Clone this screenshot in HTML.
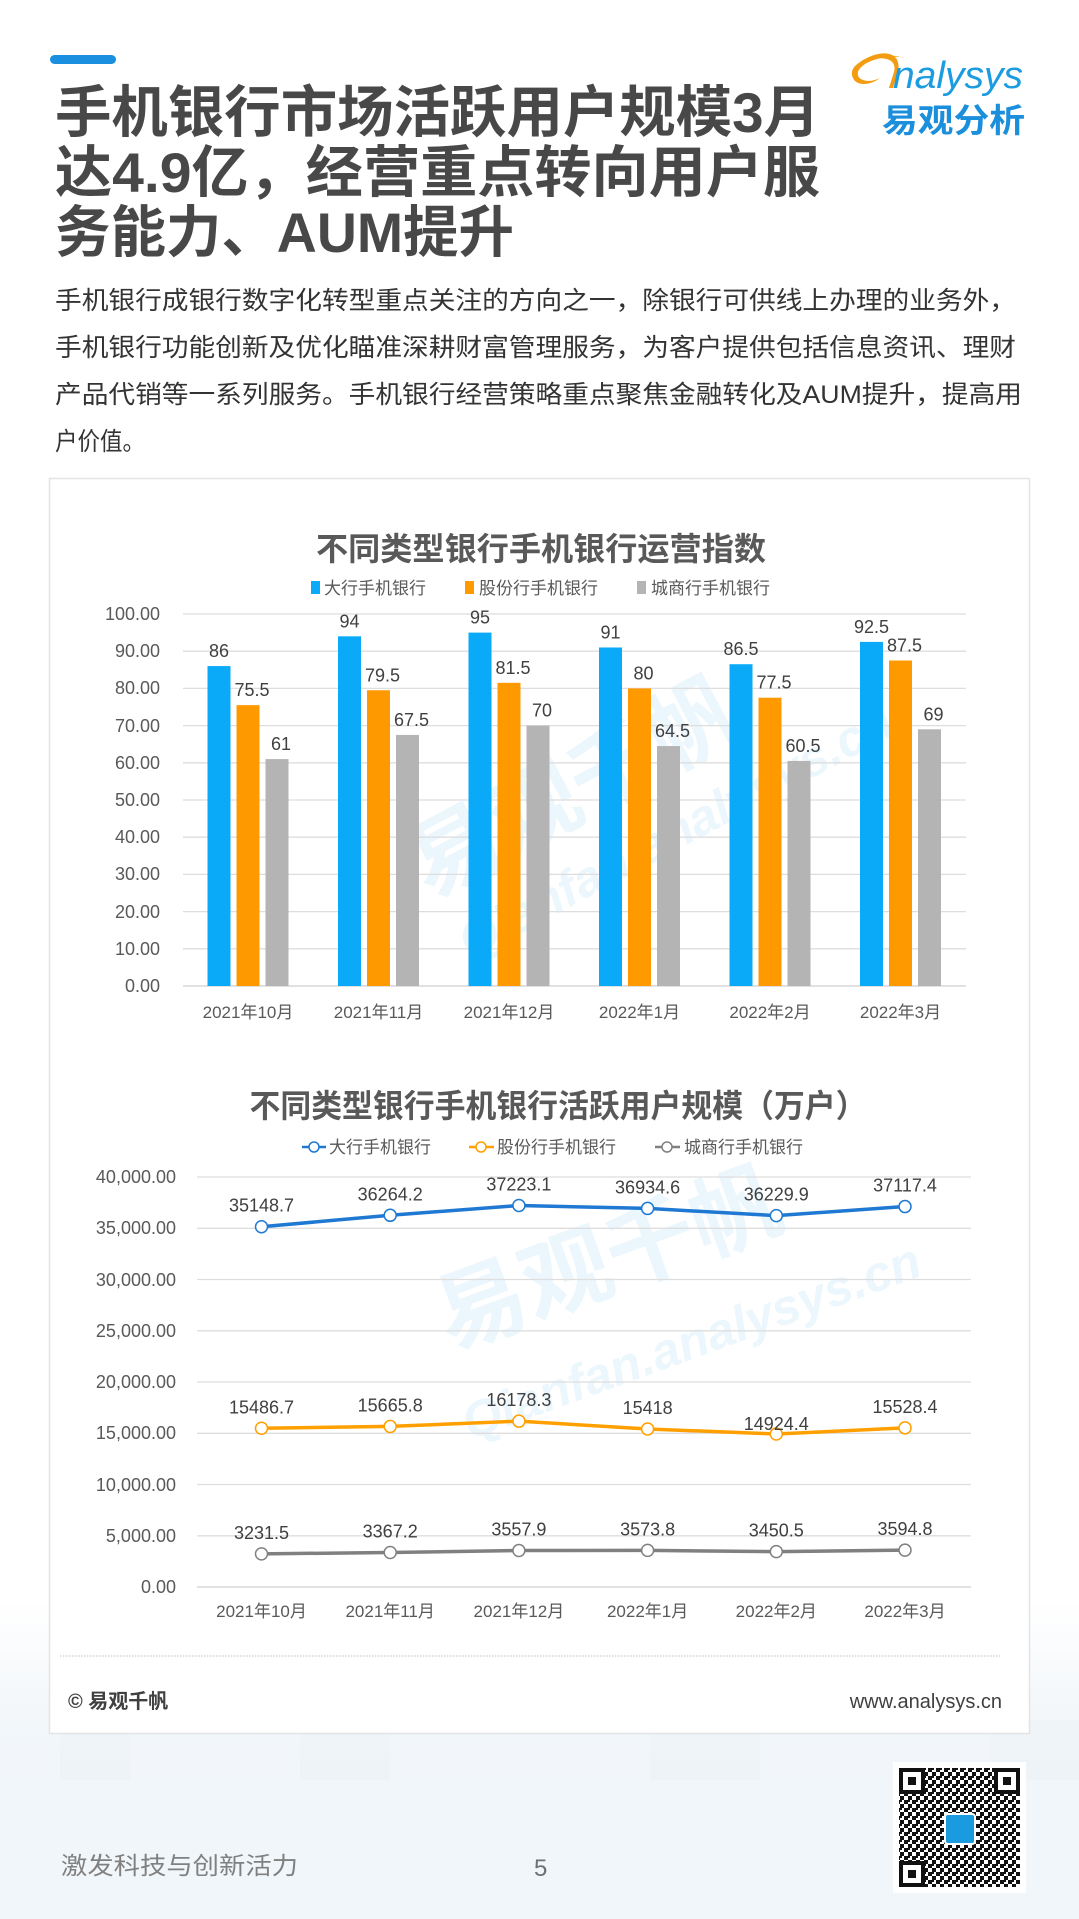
<!DOCTYPE html>
<html><head><meta charset="utf-8"><style>
html,body{margin:0;padding:0;background:#fff;}
svg{display:block;font-family:"Liberation Sans","Noto Sans CJK SC",sans-serif;}
</style></head><body>
<svg width="1079" height="1919" viewBox="0 0 1079 1919" xmlns="http://www.w3.org/2000/svg">
<defs>
<linearGradient id="bg" x1="0" y1="0" x2="0" y2="1">
<stop offset="0" stop-color="#ffffff"/><stop offset="0.35" stop-color="#f3f7fa"/><stop offset="1" stop-color="#eef4f8"/>
</linearGradient>
<pattern id="qr" width="8" height="8" patternUnits="userSpaceOnUse">
<rect width="8" height="8" fill="#fff"/><rect x="0" y="0" width="4" height="4" fill="#111"/><rect x="4" y="4" width="4" height="4" fill="#111"/><rect x="4" y="0" width="2" height="2" fill="#111"/>
</pattern>
</defs>
<rect width="1079" height="1919" fill="#fff"/>
<rect x="0" y="1600" width="1079" height="319" fill="url(#bg)"/>
<g fill="#e9f0f5" opacity="0.45">
<rect x="60" y="1560" width="70" height="359"/><rect x="300" y="1520" width="90" height="399"/><rect x="650" y="1700" width="110" height="219"/><rect x="990" y="1720" width="89" height="199"/>
</g>
<g fill="#f1f6fa"><rect x="0" y="1780" width="1079" height="139"/></g>

<!-- header -->
<rect x="50" y="55" width="66" height="9" rx="4.5" fill="#1a8fe0"/>
<g font-family="'Liberation Sans','Noto Sans CJK SC',sans-serif" font-weight="bold" font-size="56" fill="#484848">
<text x="55" y="132" textLength="765" lengthAdjust="spacingAndGlyphs">手机银行市场活跃用户规模3月</text>
<text x="55" y="192" textLength="765" lengthAdjust="spacingAndGlyphs">达4.9亿，经营重点转向用户服</text>
<text x="55" y="252" textLength="459" lengthAdjust="spacingAndGlyphs">务能力、AUM提升</text>
</g>
<!-- logo -->
<path d="M853 78 C845 62 880 50 905 58 C890 54 862 60 858 72 C856 80 868 84 880 78 C870 86 856 86 853 78 Z" fill="#f39c12"/>
<path d="M860 62 C880 48 905 50 897 75 L893 88 L889 88 L894 72 C898 56 878 56 860 62 Z" fill="#f39c12"/>
<text x="893" y="88" font-size="38" font-style="italic" fill="#1b9be0" textLength="130" lengthAdjust="spacingAndGlyphs">nalysys</text>
<text x="882" y="132" font-size="33" font-weight="bold" fill="#1c8fdc" textLength="143" lengthAdjust="spacingAndGlyphs">易观分析</text>

<g font-size="25" fill="#333">
<text x="55" y="309" textLength="961" lengthAdjust="spacingAndGlyphs">手机银行成银行数字化转型重点关注的方向之一，除银行可供线上办理的业务外，</text>
<text x="55" y="356" textLength="961" lengthAdjust="spacingAndGlyphs">手机银行功能创新及优化瞄准深耕财富管理服务，为客户提供包括信息资讯、理财</text>
<text x="55" y="403" textLength="967" lengthAdjust="spacingAndGlyphs">产品代销等一系列服务。手机银行经营策略重点聚焦金融转化及AUM提升，提高用</text>
<text x="55" y="450" textLength="90" lengthAdjust="spacingAndGlyphs">户价值。</text>
</g>

<!-- card -->
<rect x="49.5" y="478.5" width="980" height="1255" fill="#fff" stroke="#e4e4e4" stroke-width="1.5"/>

<!-- watermarks -->
<g fill="#1a9be0" opacity="0.09" font-weight="bold">
<text x="430" y="900" font-size="90" transform="rotate(-28 430 900)">易观千帆</text>
<text x="470" y="960" font-size="50" font-style="italic" transform="rotate(-28 470 960)">Qianfan.analysys.cn</text>
<text x="450" y="1350" font-size="90" transform="rotate(-20 450 1350)">易观千帆</text>
<text x="470" y="1440" font-size="50" font-style="italic" transform="rotate(-20 470 1440)">Qianfan.analysys.cn</text>
</g>

<!-- chart 1 -->
<text x="541" y="560" font-size="32" font-weight="bold" fill="#595959" text-anchor="middle" textLength="450" lengthAdjust="spacingAndGlyphs">不同类型银行手机银行运营指数</text>
<g font-size="17" fill="#595959">
<rect x="311" y="581" width="9" height="13" fill="#0aaaf8"/><text x="324" y="594">大行手机银行</text>
<rect x="465" y="581" width="9" height="13" fill="#ff9900"/><text x="479" y="594">股份行手机银行</text>
<rect x="637" y="581" width="9" height="13" fill="#b4b4b4"/><text x="651" y="594">城商行手机银行</text>
</g>
<g stroke="#dedede" stroke-width="1.3">
<line x1="183" x2="966" y1="614" y2="614"/><line x1="183" x2="966" y1="651.2" y2="651.2"/><line x1="183" x2="966" y1="688.4" y2="688.4"/><line x1="183" x2="966" y1="725.6" y2="725.6"/><line x1="183" x2="966" y1="762.8" y2="762.8"/><line x1="183" x2="966" y1="800" y2="800"/><line x1="183" x2="966" y1="837.2" y2="837.2"/><line x1="183" x2="966" y1="874.4" y2="874.4"/><line x1="183" x2="966" y1="911.6" y2="911.6"/><line x1="183" x2="966" y1="948.8" y2="948.8"/><line x1="183" x2="966" y1="986" y2="986" stroke="#cfcfcf"/>
</g>
<g font-size="18" fill="#595959" text-anchor="end">
<text x="160" y="620">100.00</text><text x="160" y="657">90.00</text><text x="160" y="694">80.00</text><text x="160" y="732">70.00</text><text x="160" y="769">60.00</text><text x="160" y="806">50.00</text><text x="160" y="843">40.00</text><text x="160" y="880">30.00</text><text x="160" y="918">20.00</text><text x="160" y="955">10.00</text><text x="160" y="992">0.00</text>
</g>
<g id="bars"></g>
<g font-size="17" fill="#595959" text-anchor="middle">
<text x="248" y="1018">2021年10月</text><text x="378.5" y="1018">2021年11月</text><text x="509" y="1018">2021年12月</text><text x="639.5" y="1018">2022年1月</text><text x="770" y="1018">2022年2月</text><text x="900.5" y="1018">2022年3月</text>
</g>

<!-- chart 2 -->
<text x="558" y="1117" font-size="32" font-weight="bold" fill="#595959" text-anchor="middle" textLength="617" lengthAdjust="spacingAndGlyphs">不同类型银行手机银行活跃用户规模（万户）</text>
<g font-size="17" fill="#595959">
<line x1="302" x2="326" y1="1147" y2="1147" stroke="#1f78d1" stroke-width="2.5"/><circle cx="314" cy="1147" r="5" fill="#fff" stroke="#1f78d1" stroke-width="1.5"/><text x="329" y="1153">大行手机银行</text>
<line x1="469" x2="494" y1="1147" y2="1147" stroke="#ffa000" stroke-width="2.5"/><circle cx="481" cy="1147" r="5" fill="#fff" stroke="#ffa000" stroke-width="1.5"/><text x="497" y="1153">股份行手机银行</text>
<line x1="655" x2="680" y1="1147" y2="1147" stroke="#808080" stroke-width="2.5"/><circle cx="667" cy="1147" r="5" fill="#fff" stroke="#808080" stroke-width="1.5"/><text x="684" y="1153">城商行手机银行</text>
</g>
<g stroke="#dedede" stroke-width="1.3">
<line x1="197" x2="971" y1="1177" y2="1177"/><line x1="197" x2="971" y1="1228.3" y2="1228.3"/><line x1="197" x2="971" y1="1279.5" y2="1279.5"/><line x1="197" x2="971" y1="1330.8" y2="1330.8"/><line x1="197" x2="971" y1="1382" y2="1382"/><line x1="197" x2="971" y1="1433.3" y2="1433.3"/><line x1="197" x2="971" y1="1484.5" y2="1484.5"/><line x1="197" x2="971" y1="1535.8" y2="1535.8"/><line x1="197" x2="971" y1="1587" y2="1587" stroke="#cfcfcf"/>
</g>
<g font-size="18" fill="#595959" text-anchor="end">
<text x="176" y="1183">40,000.00</text><text x="176" y="1234">35,000.00</text><text x="176" y="1286">30,000.00</text><text x="176" y="1337">25,000.00</text><text x="176" y="1388">20,000.00</text><text x="176" y="1439">15,000.00</text><text x="176" y="1491">10,000.00</text><text x="176" y="1542">5,000.00</text><text x="176" y="1593">0.00</text>
</g>
<g id="lines"></g>
<g font-size="17" fill="#595959" text-anchor="middle">
<text x="261.5" y="1617">2021年10月</text><text x="390.2" y="1617">2021年11月</text><text x="518.9" y="1617">2021年12月</text><text x="647.6" y="1617">2022年1月</text><text x="776.3" y="1617">2022年2月</text><text x="905" y="1617">2022年3月</text>
</g>

<line x1="60" x2="1000" y1="1656" y2="1656" stroke="#bbb" stroke-width="1" stroke-dasharray="1.5 1.5"/>
<text x="68" y="1708" font-size="20" font-weight="bold" fill="#404040">© 易观千帆</text>
<text x="1002" y="1708" font-size="20" fill="#404040" text-anchor="end">www.analysys.cn</text>

<text x="61" y="1874" font-size="24" fill="#808080" textLength="237" lengthAdjust="spacingAndGlyphs">激发科技与创新活力</text>
<text x="534" y="1876" font-size="24" fill="#707070">5</text>

<!-- QR -->
<rect x="893" y="1762" width="133" height="131" fill="#fff"/>
<rect x="899" y="1768" width="121" height="119" fill="url(#qr)"/>
<g fill="#fff" stroke="#111" stroke-width="4">
<rect x="901" y="1770" width="22" height="22"/><rect x="996" y="1770" width="22" height="22"/><rect x="901" y="1863" width="22" height="22"/>
</g>
<g fill="#111"><rect x="908" y="1777" width="8" height="8"/><rect x="1003" y="1777" width="8" height="8"/><rect x="908" y="1870" width="8" height="8"/></g>
<rect x="945" y="1814" width="30" height="30" rx="3" fill="#1a9be0" stroke="#fff" stroke-width="2"/>
</svg>
<script>
(function(){
var NS="http://www.w3.org/2000/svg";
function el(t,a,txt){var e=document.createElementNS(NS,t);for(var k in a)e.setAttribute(k,a[k]);if(txt!=null)e.textContent=txt;return e;}
var g=document.getElementById("bars");
var B=[86,94,95,91,86.5,92.5],O=[75.5,79.5,81.5,80,77.5,87.5],G=[61,67.5,70,64.5,60.5,69];
var cols=["#0aaaf8","#ff9900","#b4b4b4"],sets=[B,O,G];
for(var i=0;i<6;i++){var c=248+130.5*i;
 for(var s=0;s<3;s++){var v=sets[s][i];var x=c-29+29*s;var y=986-v*3.72;
  g.appendChild(el("rect",{x:x-11.5,y:y,width:23,height:986-y,fill:cols[s]}));
  g.appendChild(el("text",{x:x+(s==0?0:4),y:y-9,"font-size":18,fill:"#404040","text-anchor":"middle"},String(v)));
 }}
var L=document.getElementById("lines");
var D=[[35148.7,36264.2,37223.1,36934.6,36229.9,37117.4],[15486.7,15665.8,16178.3,15418,14924.4,15528.4],[3231.5,3367.2,3557.9,3573.8,3450.5,3594.8]];
var lc=["#1f78d1","#ffa000","#808080"];
for(var s=0;s<3;s++){var pts=[];
 for(var i=0;i<6;i++){pts.push([261.5+128.7*i,1587-D[s][i]*410/40000]);}
 L.appendChild(el("polyline",{points:pts.map(function(p){return p.join(",")}).join(" "),fill:"none",stroke:lc[s],"stroke-width":3.5,"stroke-linejoin":"round"}));
 for(var i=0;i<6;i++){var p=pts[i];
  L.appendChild(el("circle",{cx:p[0],cy:p[1],r:6,fill:"#fff",stroke:lc[s],"stroke-width":1.5}));
  var ly=p[1]-15; if(s==1&&i==4)ly=p[1]-4;
  L.appendChild(el("text",{x:p[0],y:ly,"font-size":18,fill:"#404040","text-anchor":"middle"},String(D[s][i])));
 }}
})();
</script>
</body></html>
